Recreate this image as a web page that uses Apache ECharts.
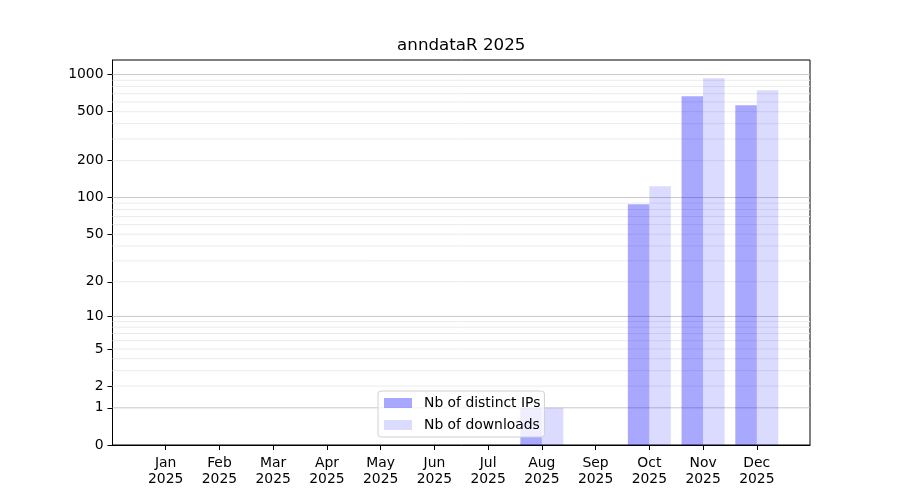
<!DOCTYPE html>
<html>
<head>
<meta charset="utf-8">
<script src="https://cdn.jsdelivr.net/npm/echarts@6/dist/echarts.min.js"></script>
<style>html,body{margin:0;padding:0;background:#fff}#c{width:900px;height:500px}</style>
</head>
<body>
<div id="c"></div>
<script>
const months = ['Jan','Feb','Mar','Apr','May','Jun','Jul','Aug','Sep','Oct','Nov','Dec'];
const yearLabel = '2025';
const distinctIPs = [0,0,0,0,0,0,0,1,0,88,667,564];
const downloads   = [0,0,0,0,0,0,0,1,0,124,933,746];
const yTickLabels = [0,1,2,5,10,20,50,100,200,500,1000];
const majorGrid = [1,10,100,1000];
const minorGrid = [2,3,4,5,6,7,8,9,20,30,40,50,60,70,80,90,200,300,400,500,600,700,800,900];

const tf = v => Math.log10(v + 1);
const FONT = 'DejaVu Sans';
const yMax = tf(Math.max(...downloads, ...distinctIPs)) * 1.05;
const xMin = -0.99, xMax = 11.99;

// [start x, y, end x, isMajor]
const gridData = [].concat(
  minorGrid.map(v => [xMin, tf(v), xMax, 0]),
  majorGrid.map(v => [xMin, tf(v), xMax, 1])
);

const chart = echarts.init(document.getElementById('c'));
chart.setOption({
  animation: false,
  graphic: [{
    type: 'text', x: 461.25, y: 46, silent: true,
    style: {text: 'anndataR ' + yearLabel, align: 'center', verticalAlign: 'middle',
      font: '16.7px "DejaVu Sans"', fill: '#000'}
  }],
  legend: {
    orient: 'vertical', left: 378, bottom: 63,
    itemWidth: 28, itemHeight: 10, itemGap: 8,
    padding: [5, 4, 5, 6],
    borderColor: '#d0d0d0', borderWidth: 1, borderRadius: 3,
    backgroundColor: 'rgba(255,255,255,0.8)',
    textStyle: {fontFamily: FONT, fontSize: 13.9, color: '#000', padding: [0, 0, 0, 7]},
    data: [{name: 'Nb of distinct IPs', icon: 'rect'}, {name: 'Nb of downloads', icon: 'rect'}]
  },
  grid: {left: 112.5, right: 90, top: 60, bottom: 55, show: true, borderColor: '#000', borderWidth: 1, backgroundColor: 'transparent'},
  xAxis: {
    type: 'value', min: xMin, max: xMax,
    axisLine: {show: true, onZero: false, lineStyle: {color: '#000'}},
    axisTick: {show: true, length: 5, lineStyle: {color: '#000'}, customValues: months.map((m, i) => i)},
    axisLabel: {
      customValues: months.map((m, i) => i), margin: 10,
      fontFamily: FONT, fontSize: 13.9, color: '#000', lineHeight: 16,
      formatter: v => months[Math.round(v)] + '\n' + yearLabel
    },
    splitLine: {show: false}
  },
  yAxis: {
    type: 'value', min: 0, max: yMax,
    axisLine: {show: true, onZero: false, lineStyle: {color: '#000'}},
    axisTick: {show: true, length: 5, lineStyle: {color: '#000'}, customValues: yTickLabels.map(tf)},
    axisLabel: {
      customValues: yTickLabels.map(tf), margin: 9,
      fontFamily: FONT, fontSize: 13.9, color: '#000',
      formatter: v => String(Math.round(Math.pow(10, v) - 1))
    },
    splitLine: {show: false}
  },
  series: [
    {
      name: 'grid', type: 'custom', silent: true, z: 1, clip: false,
      encode: {x: 0, y: 1},
      data: gridData,
      renderItem: (params, api) => {
        const p1 = api.coord([api.value(0), api.value(1)]);
        const p2 = api.coord([api.value(2), api.value(1)]);
        return {
          type: 'line',
          shape: {x1: p1[0], y1: p1[1], x2: p2[0], y2: p2[1]},
          style: {stroke: api.value(3) ? '#c8c8c8' : '#ebebeb', lineWidth: 1}
        };
      }
    },
    {
      name: 'Nb of distinct IPs', type: 'bar', barWidth: 21.5, barGap: '0%',
      itemStyle: {color: 'rgba(0,0,255,0.34)'},
      data: distinctIPs.map((v, i) => [i, tf(v)]), z: 3
    },
    {
      name: 'Nb of downloads', type: 'bar', barWidth: 21.5, barGap: '0%',
      itemStyle: {color: 'rgba(0,0,255,0.14)'},
      data: downloads.map((v, i) => [i, tf(v)]), z: 3
    }
  ]
});
</script>
</body>
</html>
